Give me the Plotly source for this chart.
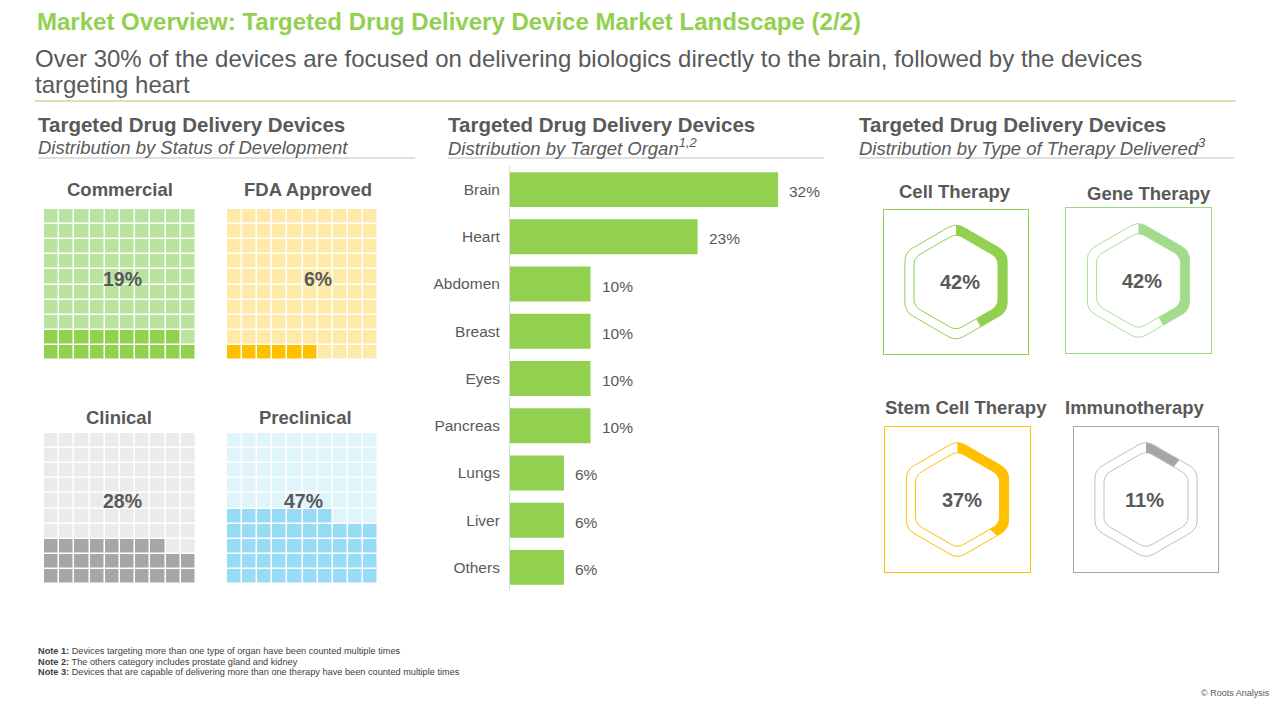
import numpy as np
import plotly.graph_objects as go

# the page body adds an 8px margin, so the figure is drawn 8px in from the corner
OX, OY = 8, 8
W, H = 1280 - OX, 720 - OY
FONT = "Liberation Sans, Arial, sans-serif"
GREY = "#595959"

# ---- data ----
status_names = ["Commercial", "FDA Approved", "Clinical", "Preclinical"]
status_share = [19, 6, 28, 47]

organs = ["Brain", "Heart", "Abdomen", "Breast", "Eyes", "Pancreas", "Lungs", "Liver", "Others"]
organ_share = [32.3, 22.6, 9.7, 9.7, 9.7, 9.7, 6.5, 6.5, 6.5]
organ_labels = ["32%", "23%", "10%", "10%", "10%", "10%", "6%", "6%", "6%"]

therapies = ["Cell Therapy", "Gene Therapy", "Stem Cell Therapy", "Immunotherapy"]
therapy_share = [42, 42, 37, 11]

notes = [
    ("Note 1:", "Devices targeting more than one type of organ have been counted multiple times"),
    ("Note 2:", "The others category includes prostate gland and kidney"),
    ("Note 3:", "Devices that are capable of delivering more than one therapy have been counted multiple times"),
]

# ---- styles / placement (page pixels) ----
waffle_light = ["#b8e4a0", "#ffe9a9", "#ebebeb", "#e0f4fb"]
waffle_dark = ["#92d050", "#ffc000", "#a6a6a6", "#97dbf5"]
waffle_box = [(44, 209, 196, 360), (227, 209, 378, 360), (44, 433, 196, 584), (227, 433, 378, 584)]
waffle_title_xy = [(120, 189), (308, 189), (119, 417), (305, 417)]
waffle_pct_xy = [(123, 279), (318, 279), (123, 501), (303, 501)]

hex_fill = ["#92d050", "#a0dc8c", "#ffc000", "#a6a6a6"]
hex_line = ["#92d050", "#a8e095", "#ffc000", "#bfbfbf"]
hex_box_col = ["#92d050", "#9cd886", "#ffc000", "#a6a6a6"]
hex_box = [(884, 210, 1028, 354), (1066, 208, 1211, 353), (885, 427, 1030, 572), (1074, 427, 1218, 572)]
hex_title_xy = [(955, 192), (1149, 193), (966, 407), (1134, 407)]
hex_pct_dx = [4, 3, 4, -2]

bar_box = (510, 166, 842, 591)
bar_xmax = 40


def pxx(x):
    return (x - OX) / W


def pxy(y):
    return 1 - (y - OY) / H


def dom(b):
    x0, y0, x1, y1 = b
    return [pxx(x0), pxx(x1)], [pxy(y1), pxy(y0)]


def ax(k):
    return ("x", "y") if k == 1 else (f"x{k}", f"y{k}")


def hex_path(r, rc=0.15, n=11):
    # pointy-top hexagon, clockwise from the top vertex, rounded corners
    ang = np.deg2rad([90, 30, -30, -90, -150, -210])
    V = np.c_[r * np.cos(ang), r * np.sin(ang)]
    t = np.linspace(0, 1, n)[:, None]
    parts = []
    for i in range(6):
        p0, p1, p2 = V[i - 1], V[i], V[(i + 1) % 6]
        a = p1 + (p0 - p1) * rc
        b = p1 + (p2 - p1) * rc
        parts.append((1 - t) ** 2 * a + 2 * (1 - t) * t * p1 + t ** 2 * b)
    pts = np.roll(np.vstack(parts), -(n // 2), axis=0)
    pts = np.vstack([pts, pts[:1]])
    s = np.r_[0, np.cumsum(np.hypot(*np.diff(pts, axis=0).T))]
    return pts, s / s[-1]


def cut(pts, s, f):
    keep = pts[s <= f]
    j = np.searchsorted(s, f)
    if j < len(s):
        w = (f - s[j - 1]) / (s[j] - s[j - 1])
        keep = np.vstack([keep, pts[j - 1] + w * (pts[j] - pts[j - 1])])
    return keep


fig = go.Figure()
layout = dict(
    width=W, height=H, margin=dict(l=0, r=0, t=0, b=0),
    paper_bgcolor="white", plot_bgcolor="white",
    showlegend=False, font=dict(family=FONT, color=GREY),
    bargap=0.26,
)
annotations = []
shapes = []


def txt(x, y, text, size, color=GREY, xanchor="left", **kw):
    if xanchor == "left":
        x -= 2  # annotation box padding
    annotations.append(dict(
        x=pxx(x), y=pxy(y), xref="paper", yref="paper", text=text,
        showarrow=False, xanchor=xanchor, yanchor="middle",
        font=dict(family=FONT, size=size, color=color), **kw))


def hline(x0, x1, y, color):
    shapes.append(dict(type="line", xref="paper", yref="paper", x0=pxx(x0), x1=pxx(x1),
                       y0=pxy(y), y1=pxy(y), line=dict(color=color, width=1)))


# ---- waffles ----
for i, (name, share) in enumerate(zip(status_names, status_share)):
    k = i + 1
    xa, ya = ax(k)
    z = np.zeros((10, 10))
    for n in range(share):
        z[n // 10, n % 10] = 1
    fig.add_trace(go.Heatmap(
        z=z, x=list(range(10)), y=list(range(10)),
        colorscale=[[0, waffle_light[i]], [1, waffle_dark[i]]], zmin=0, zmax=1,
        showscale=False, xgap=1.5, ygap=1.5, hoverinfo="skip", xaxis=xa, yaxis=ya))
    dx, dy = dom(waffle_box[i])
    layout["xaxis" if k == 1 else f"xaxis{k}"] = dict(domain=dx, range=[-0.5, 9.5], visible=False, anchor=ya)
    layout["yaxis" if k == 1 else f"yaxis{k}"] = dict(domain=dy, range=[-0.5, 9.5], visible=False, anchor=xa)
    tx, ty = waffle_title_xy[i]
    txt(tx, ty, f"<b>{name}</b>", 18.5, xanchor="center")
    px_, py_ = waffle_pct_xy[i]
    txt(px_, py_, f"<b>{share}%</b>", 19.5, xanchor="center")

# ---- bar chart ----
k = 5
xa, ya = ax(k)
fig.add_trace(go.Bar(
    x=organ_share, y=organs, orientation="h", marker=dict(color="#92d050", line=dict(width=0)),
    hoverinfo="skip", xaxis=xa, yaxis=ya))
dx, dy = dom(bar_box)
layout["xaxis5"] = dict(domain=dx, range=[0, bar_xmax], visible=False, anchor=ya)
layout["yaxis5"] = dict(
    domain=dy, autorange="reversed", anchor=xa, showline=True, linecolor="#d9d9d9", linewidth=1,
    showgrid=False, zeroline=False, ticks="", ticklabelstandoff=6,
    tickfont=dict(family=FONT, size=15.5, color=GREY))
for org, val, lab in zip(organs, organ_share, organ_labels):
    annotations.append(dict(
        x=val, y=org, xref=xa, yref=ya, text=lab, showarrow=False,
        xanchor="left", yanchor="middle", xshift=9, yshift=-2,
        font=dict(family=FONT, size=15.5, color=GREY)))

# ---- hexagon rings ----
R_OUT, R_IN = 59, 48.5
outer, s_out = hex_path(R_OUT)
inner, s_in = hex_path(R_IN)
for i, (name, share) in enumerate(zip(therapies, therapy_share)):
    k = 6 + i
    xa, ya = ax(k)
    f = share / 100
    o = cut(outer, s_out, f)
    n_ = cut(inner, s_in, f)
    poly = np.vstack([o, n_[::-1], o[:1]])
    fig.add_trace(go.Scatter(
        x=poly[:, 0], y=poly[:, 1], mode="lines", fill="toself", fillcolor=hex_fill[i],
        line=dict(width=0, color=hex_fill[i]), hoverinfo="skip", xaxis=xa, yaxis=ya))
    for p in (outer, inner):
        fig.add_trace(go.Scatter(
            x=p[:, 0], y=p[:, 1], mode="lines", line=dict(width=1, color=hex_line[i]),
            hoverinfo="skip", xaxis=xa, yaxis=ya))
    x0, y0, x1, y1 = hex_box[i]
    hw, hh = (x1 - x0) / 2, (y1 - y0) / 2
    dx, dy = dom(hex_box[i])
    axis_style = dict(showline=True, mirror=True, linecolor=hex_box_col[i], linewidth=1,
                      showgrid=False, zeroline=False, showticklabels=False, ticks="")
    layout[f"xaxis{k}"] = dict(domain=dx, range=[-hw, hw], anchor=ya, **axis_style)
    layout[f"yaxis{k}"] = dict(domain=dy, range=[-hh, hh], anchor=xa, **axis_style)
    annotations.append(dict(
        x=hex_pct_dx[i], y=0, xref=xa, yref=ya, text=f"<b>{share}%</b>", showarrow=False,
        xanchor="center", yanchor="middle", font=dict(family=FONT, size=20, color=GREY)))
    tx, ty = hex_title_xy[i]
    txt(tx, ty, f"<b>{name}</b>", 18.5, xanchor="center")

# ---- headings and text ----
txt(37, 22, "<b>Market Overview: Targeted Drug Delivery Device Market Landscape (2/2)</b>", 24, color="#92d050")
txt(35, 58, "Over 30% of the devices are focused on delivering biologics directly to the brain, followed by the devices", 24)
txt(35, 84, "targeting heart", 24)
hline(35, 1236, 101, "#9bd06a")

sections = [
    (38, 415, "Distribution by Status of Development"),
    (448, 824, "Distribution by Target Organ<sup>1,2</sup>"),
    (859, 1234, "Distribution by Type of Therapy Delivered<sup>3</sup>"),
]
for x0, x1, sub in sections:
    txt(x0, 124, "<b>Targeted Drug Delivery Devices</b>", 20.5)
    txt(x0, 147, f"<i>{sub}</i>", 18.5)
    hline(x0, x1, 158, "#bfbfbf")

for j, (head, body) in enumerate(notes):
    txt(38, 651 + j * 10.5, f"<b>{head}</b> {body}", 9.2, color="#404040")

txt(1272, 693, "© Roots Analysis", 9, color=GREY, xanchor="right")

layout["annotations"] = annotations
layout["shapes"] = shapes
fig.update_layout(**layout)
fig.write_html("out.html")
